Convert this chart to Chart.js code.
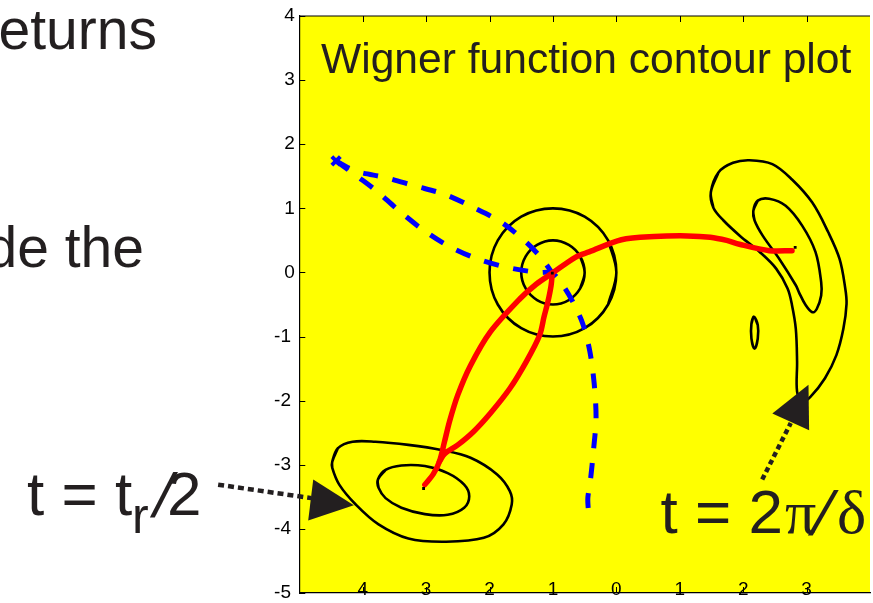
<!DOCTYPE html>
<html>
<head>
<meta charset="utf-8">
<script src="https://cdn.jsdelivr.net/npm/chart.js@4.4.1/dist/chart.umd.min.js"></script>
<style>
  html, body { margin: 0; padding: 0; background: #fff; overflow: hidden; }
  canvas { display: block; }
</style>
</head>
<body>
<canvas id="wigner" width="880" height="603"></canvas>
<script>
// eixos
const xTicks = [-4, -3, -2, -1, 0, 1, 2, 3];
const yTicks = [-5, -4, -3, -2, -1, 0, 1, 2, 3, 4];

// contornos (laços fechados), pontos [x, y]
const ringOuter = [[0, 0], [-0.13, 0.5], [-0.5, 0.87], [-1, 1], [-1.5, 0.87], [-1.87, 0.5], [-2, 0],
  [-1.87, -0.5], [-1.5, -0.87], [-1, -1], [-0.5, -0.87], [-0.13, -0.5]];
const ringInner = [[-0.5, 0], [-0.57, 0.25], [-0.75, 0.43], [-1, 0.5], [-1.25, 0.43], [-1.43, 0.25], [-1.5, 0],
  [-1.43, -0.25], [-1.25, -0.43], [-1, -0.5], [-0.75, -0.43], [-0.57, -0.25]];
const eggOuter = [[-4.48, -2.95], [-4.39, -2.74], [-4.16, -2.64], [-3.80, -2.64], [-3.28, -2.69], [-2.76, -2.77],
  [-2.30, -2.89], [-1.88, -3.15], [-1.68, -3.41], [-1.65, -3.62], [-1.78, -3.93], [-2.09, -4.14], [-2.71, -4.20],
  [-3.28, -4.15], [-3.75, -3.93], [-4.11, -3.62], [-4.37, -3.31], [-4.48, -3.05]];
const eggInner = [[-3.76, -3.23], [-3.64, -3.08], [-3.39, -3.01], [-3.02, -3.02], [-2.66, -3.13], [-2.40, -3.31],
  [-2.32, -3.49], [-2.40, -3.67], [-2.66, -3.78], [-3.02, -3.77], [-3.39, -3.67], [-3.64, -3.52], [-3.75, -3.36]];
const hookOuter = [[1.49, 1.25], [1.61, 1.56], [1.84, 1.71], [2.10, 1.75], [2.46, 1.69], [2.77, 1.45], [3.09, 1.09],
  [3.34, 0.63], [3.52, 0.21], [3.61, -0.25], [3.63, -0.49], [3.58, -0.88], [3.47, -1.29], [3.29, -1.65],
  [3.06, -1.94], [2.93, -2.02], [2.85, -1.86], [2.85, -1.39], [2.83, -0.88], [2.77, -0.51], [2.70, -0.25],
  [2.52, 0.06], [2.26, 0.32], [1.95, 0.57], [1.69, 0.81], [1.53, 1.01]];
const hookInner = [[2.16, 0.96], [2.23, 1.12], [2.41, 1.15], [2.67, 1.04], [2.93, 0.73], [3.14, 0.32], [3.23, -0.15],
  [3.23, -0.36], [3.16, -0.57], [3.09, -0.62], [2.98, -0.50], [2.88, -0.31], [2.83, -0.20], [2.57, 0.21],
  [2.31, 0.57], [2.18, 0.81]];
const islet = [[2.17, -0.69], [2.23, -0.82], [2.23, -1.03], [2.18, -1.19], [2.13, -1.03], [2.13, -0.80]];

// trajetórias
const redOut = [[2.77, 0.34], [2.41, 0.34], [1.94, 0.44], [1.74, 0.50], [1.48, 0.55], [1.12, 0.57], [0.60, 0.56],
  [0.08, 0.51], [-0.43, 0.32], [-0.64, 0.24], [-1.01, -0.01], [-1.26, -0.18], [-1.52, -0.41], [-1.99, -0.93],
  [-2.30, -1.45], [-2.50, -1.91], [-2.63, -2.32], [-2.71, -2.64], [-2.79, -2.95], [-2.89, -3.15], [-3.02, -3.31]];
const redBack = [[-1.01, -0.01], [-1.03, -0.21], [-1.08, -0.46], [-1.14, -0.69], [-1.21, -0.98], [-1.42, -1.39],
  [-1.68, -1.81], [-1.99, -2.20], [-2.25, -2.48], [-2.50, -2.69], [-2.71, -2.83], [-2.79, -2.95]];
const blueUpper = [[-4.42, 1.74], [-4.11, 1.58], [-3.64, 1.48], [-3.18, 1.35], [-2.71, 1.22], [-2.25, 1.01],
  [-1.81, 0.78], [-1.42, 0.47], [-1.17, 0.21], [-1.01, -0.01]];
const blueLower = [[-4.42, 1.74], [-4.06, 1.48], [-3.78, 1.27], [-3.46, 0.99], [-3.07, 0.68], [-2.66, 0.42],
  [-2.19, 0.21], [-1.73, 0.08], [-1.24, 0.00], [-1.01, -0.01], [-0.83, -0.22], [-0.67, -0.49], [-0.53, -0.80],
  [-0.42, -1.22], [-0.35, -1.73], [-0.32, -2.27], [-0.36, -2.77], [-0.41, -3.25], [-0.45, -3.52], [-0.44, -3.73]];
const endDots = [[2.82, 0.39], [-3.04, -3.37], [-1.01, -0.01]];

// setas (haste + cabeça)
const arrowLeftShaft = [[-6.28, -3.31], [-4.81, -3.52]];
const arrowLeftHead = [[-4.78, -3.23], [-4.86, -3.87], [-4.14, -3.63]];
const arrowRightShaft = [[2.30, -3.23], [2.75, -2.35]];
const arrowRightHead = [[2.46, -2.20], [3.03, -1.75], [3.04, -2.46]];

const INK = '#231f20';
const pts = a => a.map(([x, y]) => ({ x, y }));
// repete as pontas para a curva fechar sem quina
const loop = a => pts([a[a.length - 1], ...a, a[0], a[1]]);

function contour(a) {
    return { data: loop(a), showLine: true, borderColor: '#000', borderWidth: 2.6, tension: 0.35,
        pointRadius: 0, order: 4 };
}
function trail(a, color, dash) {
    return { data: pts(a), showLine: true, borderColor: color, borderWidth: dash ? 5 : 5.5, tension: 0.3,
        borderDash: dash || [], borderCapStyle: dash ? 'butt' : 'round', borderJoinStyle: 'round',
        pointRadius: 0, order: dash ? 3 : 2 };
}

const decor = {
    id: 'decor',
    beforeDraw(chart) {
        const { ctx, chartArea: a } = chart;
        ctx.save();
        ctx.fillStyle = '#ffff00';
        ctx.fillRect(a.left, a.top, a.right - a.left, a.bottom - a.top);
        ctx.restore();
    },
    afterDraw(chart) {
        const { ctx, chartArea: a, scales: { x, y } } = chart;
        const P = ([vx, vy]) => [x.getPixelForValue(vx), y.getPixelForValue(vy)];
        const line = (x1, y1, x2, y2) => { ctx.beginPath(); ctx.moveTo(x1, y1); ctx.lineTo(x2, y2); ctx.stroke(); };
        ctx.save();

        // borda de cima e marcas internas
        ctx.strokeStyle = '#000';
        ctx.lineWidth = 1.2;
        line(a.left, a.top, a.right, a.top);
        ctx.lineWidth = 1;
        xTicks.forEach(v => {
            const px = Math.round(x.getPixelForValue(v)) + 0.5;
            line(px, a.top, px, a.top + 6);
            line(px, a.bottom, px, a.bottom - 6);
        });
        yTicks.forEach(v => {
            const py = Math.round(y.getPixelForValue(v)) + 0.5;
            line(a.left, py, a.left + 6, py);
        });

        // textos; skew inclina a barra
        ctx.fillStyle = INK;
        ctx.textBaseline = 'alphabetic';
        ctx.textAlign = 'left';
        const text = (s, px, py, font, align, skew) => {
            ctx.save();
            ctx.font = font;
            ctx.textAlign = align || 'left';
            ctx.translate(px, py);
            if (skew) ctx.transform(1, 0, -skew, 1, 0, 0);
            ctx.fillText(s, 0, 0);
            ctx.restore();
        };
        const sans = n => n + 'px "Liberation Sans"';
        const serif = n => n + 'px "Liberation Serif"';
        text('Wigner function contour plot', 321, 73.3, sans(42.6));
        text('eturns', 157, 49.3, sans(57), 'right');
        text('de the', 144, 266.7, sans(57), 'right');
        text('t = t', 27, 515, sans(62));
        text('r', 132, 533, sans(50));
        text('/', 150, 517, sans(62), 'left', 0.24);
        text('2', 167, 515, sans(62));
        text('t = 2', 660.5, 533.3, sans(62));
        text('\u03c0', 785, 533.3, serif(62));
        text('/', 808, 535, sans(62), 'left', 0.3);
        text('\u03b4', 837, 533.3, serif(62));

        // setas pontilhadas
        const arrow = (shaft, head, dash) => {
            ctx.strokeStyle = INK;
            ctx.lineWidth = 4.5;
            ctx.setLineDash(dash);
            const [s0, s1] = shaft.map(P);
            line(s0[0], s0[1], s1[0], s1[1]);
            ctx.setLineDash([]);
            ctx.beginPath();
            head.map(P).forEach(([hx, hy], i) => (i ? ctx.lineTo(hx, hy) : ctx.moveTo(hx, hy)));
            ctx.closePath();
            ctx.fill();
        };
        arrow(arrowLeftShaft, arrowLeftHead, [6, 4]);
        arrow(arrowRightShaft, arrowRightHead, [5, 3.5]);
        ctx.restore();
    }
};

const tickFont = { family: 'Liberation Sans', size: 19 };

new Chart(document.getElementById('wigner'), {
    type: 'scatter',
    data: {
        datasets: [
            { data: pts(endDots), pointStyle: 'rect', pointRadius: 2, pointBackgroundColor: '#000',
                pointBorderWidth: 0, order: 1 },
            { data: pts([blueUpper[0]]), pointStyle: 'crossRot', pointRadius: 6, pointBorderWidth: 4,
                pointBorderColor: '#0000ff', order: 1 },
            trail(redOut, '#ff0000'),
            trail(redBack, '#ff0000'),
            trail(blueUpper, '#0000ff', [15, 15]),
            trail(blueLower, '#0000ff', [15, 15]),
            contour(ringOuter),
            contour(ringInner),
            contour(eggOuter),
            contour(eggInner),
            contour(hookOuter),
            contour(hookInner),
            contour(islet)
        ]
    },
    options: {
        responsive: false,
        animation: false,
        events: [],
        layout: { padding: { top: 16, right: 1, left: 0, bottom: 0 } },
        plugins: { legend: { display: false }, tooltip: { enabled: false } },
        scales: {
            x: {
                type: 'linear', min: -5, max: 4,
                afterBuildTicks: s => { s.ticks = xTicks.map(v => ({ value: v })); },
                afterFit: s => { s.height = 7; s.paddingLeft = 0; s.paddingRight = 0; },
                grid: { display: false, drawTicks: false },
                border: { display: true, color: '#000', width: 1.2 },
                ticks: {
                    // mirror: rótulos por dentro da área amarela
                    mirror: true, autoSkip: false, maxRotation: 0, padding: -8, color: '#000', font: tickFont,
                    callback: v => String(Math.abs(v))
                }
            },
            y: {
                type: 'linear', min: -5, max: 4,
                afterBuildTicks: s => { s.ticks = yTicks.map(v => ({ value: v })); },
                afterFit: s => { s.width = 299.3; s.paddingTop = 0; s.paddingBottom = 0; },
                grid: { display: false, drawTicks: false },
                border: { display: true, color: '#000', width: 1.2 },
                ticks: {
                    padding: 4.5, color: '#000', font: tickFont,
                    callback: v => (v < 0 ? v + '\u2009' : String(v))
                }
            }
        }
    },
    plugins: [decor]
});
</script>
</body>
</html>
